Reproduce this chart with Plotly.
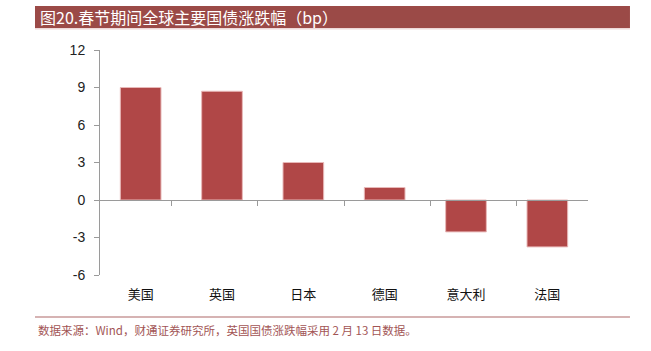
import plotly.graph_objects as go

categories = ["美国", "英国", "日本", "德国", "意大利", "法国"]
values = [9.0, 8.7, 3.0, 1.0, -2.55, -3.75]
y_ticks = [-6, -3, 0, 3, 6, 9, 12]

title_text = "图20.春节期间全球主要国债涨跌幅（bp）"
source_text = "数据来源：Wind，财通证券研究所，英国国债涨跌幅采用 2 月 13 日数据。"

BAR = "#B04747"
AXIS = "#9A9A9A"
TITLE_BG = "#9B4A47"
CJK = "Noto Sans CJK SC"

fig = go.Figure()
fig.add_trace(go.Bar(
    x=categories, y=values, width=0.5,
    marker=dict(color=BAR, line=dict(color="#E8B8B8", width=1)),
    xaxis="x", yaxis="y", showlegend=False, hoverinfo="x+y",
))
# invisible trace to drive the zero-line category axis
fig.add_trace(go.Scatter(
    x=categories, y=[0] * len(categories), mode="markers",
    marker=dict(opacity=0), xaxis="x2", yaxis="y", showlegend=False, hoverinfo="skip",
))

fig.update_layout(
    width=651, height=351,
    margin=dict(l=100, r=63, t=50, b=76),
    paper_bgcolor="white", plot_bgcolor="white",
    bargap=0.5,
    xaxis=dict(
        type="category", categoryorder="array", categoryarray=categories,
        showline=False, ticks="", showgrid=False, zeroline=False,
        tickfont=dict(family=CJK, size=13, color="#111111"),
        ticklabelstandoff=10,
    ),
    xaxis2=dict(
        type="category", categoryorder="array", categoryarray=categories,
        overlaying="x", anchor="free", position=1/3, side="bottom",
        showline=True, linecolor=AXIS, linewidth=1,
        ticks="outside", ticklen=5, tickcolor=AXIS, tickson="boundaries",
        showticklabels=False, showgrid=False, zeroline=False,
    ),
    yaxis=dict(
        range=[-6, 12], tickvals=y_ticks, ticktext=[str(v) for v in y_ticks],
        showline=True, linecolor=AXIS, linewidth=1,
        ticks="outside", ticklen=5, tickcolor=AXIS,
        showgrid=False, zeroline=False,
        tickfont=dict(family="Liberation Sans, Arial", size=14, color="#222222"),
        ticklabelstandoff=6,
    ),
    shapes=[
        dict(type="rect", xref="paper", yref="paper", x0=-0.1332, x1=1.086,
             y0=1.0978, y1=1.1956, fillcolor=TITLE_BG, line=dict(width=0), layer="below"),
        dict(type="line", xref="paper", yref="paper", x0=-0.1332, x1=1.086,
             y0=1.094, y1=1.094, line=dict(color="#E6C4C4", width=1)),
        dict(type="line", xref="paper", yref="paper", x0=-0.1332, x1=1.086,
             y0=-0.1867, y1=-0.1867, line=dict(color="#C99A9A", width=1.5)),
    ],
    annotations=[
        dict(text=title_text, xref="paper", yref="paper", x=-0.127, y=1.147,
             xanchor="left", yanchor="middle", showarrow=False,
             font=dict(family=CJK, size=16, color="white")),
        dict(text=source_text, xref="paper", yref="paper", x=-0.1302, y=-0.245,
             xanchor="left", yanchor="middle", showarrow=False,
             font=dict(family=CJK, size=11.5, color="#A25555")),
    ],
)

fig.write_html("out.html")
